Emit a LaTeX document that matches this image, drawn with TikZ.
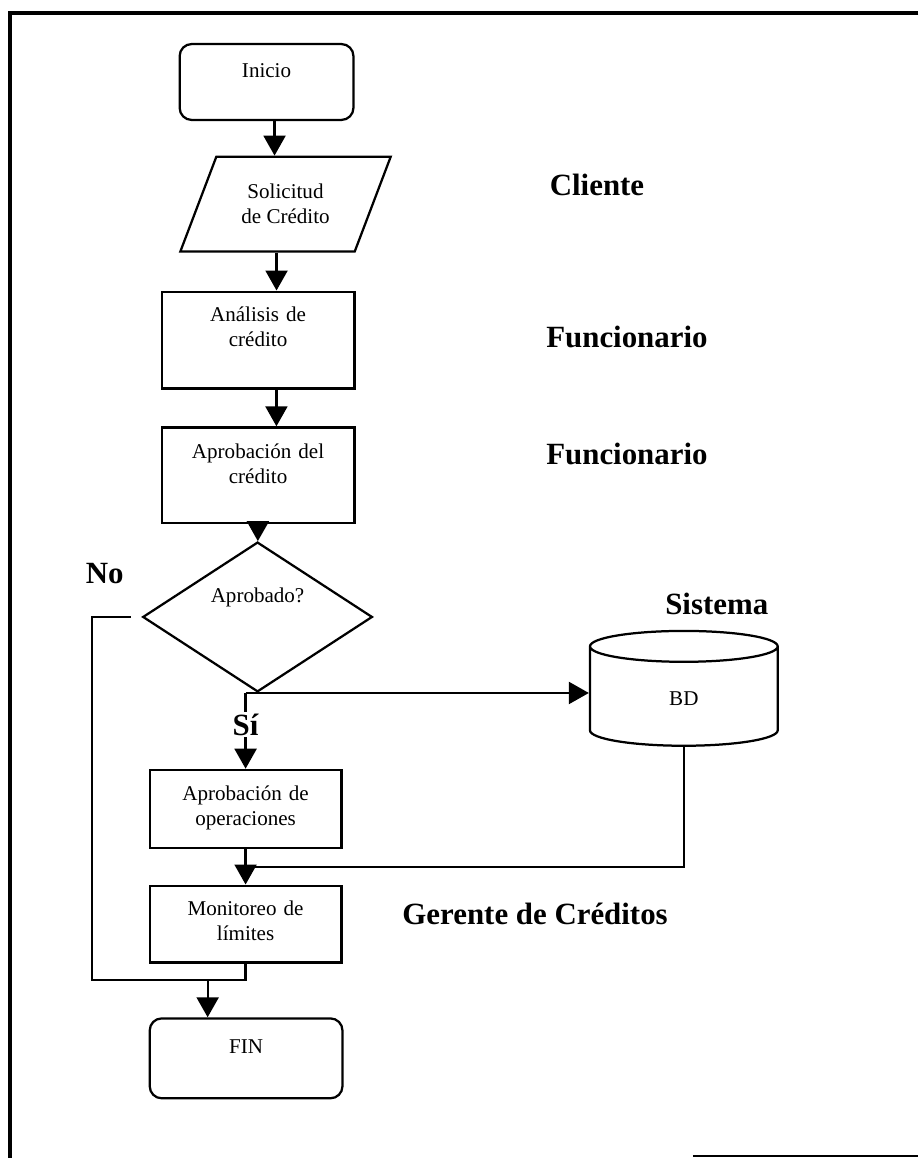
\documentclass[tikz,border=0pt]{standalone}
\usepackage{fontspec}
\setmainfont{Liberation Serif}
\usetikzlibrary{shapes.geometric, arrows.meta, positioning, calc}

\begin{document}
\begin{tikzpicture}[
    x=0.025cm, y=-0.025cm,
    every node/.style={font=\fontsize{15}{17.8}\selectfont},
    caja/.style={rectangle, draw, line width=1.6pt, inner sep=0pt, align=center},
    terminal/.style={caja, rounded corners=0.3cm},
    entrada/.style={trapezium, trapezium left angle=60, trapezium right angle=120, trapezium stretches=true, draw, line width=1.6pt, inner sep=0pt, align=center, minimum width=5.3cm, minimum height=2.375cm},
    decision/.style={diamond, draw, line width=1.6pt, inner sep=0pt, minimum width=5.75cm, minimum height=3.75cm},
    almacen/.style={cylinder, shape border rotate=90, aspect=0.8, draw, line width=1.6pt, minimum width=4.7cm, minimum height=2.875cm},
    actor/.style={font=\fontsize{22}{26}\selectfont\bfseries},
    arrow/.style={->, >={Triangle[length=0.5cm, width=0.55cm]}, line width=1.6pt},
    linea/.style={line width=1.6pt}
]

\fill[white] (0,0) rectangle (920,1160);

% marco
\draw[line width=2.8pt] (920,13) -- (10,13) -- (10,1160);
\draw[line width=2pt] (694,1158) -- (920,1158);

% flujo principal
\node[terminal, anchor=north, text width=4.35cm, text height=0.825cm, text depth=1.075cm] (inicio) at (267,43) {Inicio};
\node[entrada] (solic) at (286,204.5) {Solicitud\\de Crédito};
\node[caja, anchor=north, text width=4.825cm, text height=0.75cm, text depth=1.675cm] (ana) at (258.5,291) {Análisis de\\crédito};
\node[caja, anchor=north, text width=4.825cm, text height=0.775cm, text depth=1.625cm] (apr) at (258.5,427) {Aprobación del\\crédito};
\node[decision, text height=0.25cm, text depth=0.95cm] (dia) at (258,618) {Aprobado?};
\node[almacen, anchor=shape center] (bd) at (685,689.5) {BD};
\node[caja, anchor=north, text width=4.8cm, text height=0.775cm, text depth=1.175cm] (ops) at (246,770) {Aprobación de\\operaciones};
\node[caja, anchor=north, text width=4.8cm, text height=0.75cm, text depth=1.175cm] (mon) at (246,886) {Monitoreo de\\límites};
\node[terminal, anchor=north, text width=4.825cm, text height=0.875cm, text depth=1.125cm] (fin) at (246.5,1019) {FIN};

% actores
\node[actor] (cliente) at (598,185) {Cliente};
\node[actor] (func1) at (628,338) {Funcionario};
\node[actor] (func2) at (628,455) {Funcionario};
\node[actor] (sistema) at (718,605) {Sistema};
\node[actor] (gerente) at (536,915) {Gerente de Créditos};
\node[actor] (no) at (105,575) {No};

\draw[arrow] ([xshift=0.2cm]inicio.south) -- ([xshift=0.2cm]inicio.south |- solic.north);
\draw[arrow] ([xshift=-0.225cm]solic.south) -- ([xshift=-0.225cm]solic.south |- ana.north);
\draw[arrow] ([xshift=0.46cm]ana.south) -- ([xshift=0.46cm]apr.north);
\draw[arrow] (apr) -- (dia);
\draw[arrow] (ops.north |- dia.south) -- node[actor, fill=white, inner sep=1pt, pos=0.42] (si) {Sí} (ops.north);
\draw[arrow] (ops.north |- dia.south) -- (dia.south -| bd.west);
\draw[arrow] (ops) -- (mon);
\draw[linea] (bd.south) |- ($(ops.south)!0.5!(mon.north)$);

\coordinate (izq) at (92,982);
\coordinate (baja) at (208,982);
\draw[linea, shorten <=0.275cm] (dia.west) -| (izq) -| (mon.south);
\draw[arrow] (baja) -- (baja |- fin.north);

\end{tikzpicture}
\end{document}
